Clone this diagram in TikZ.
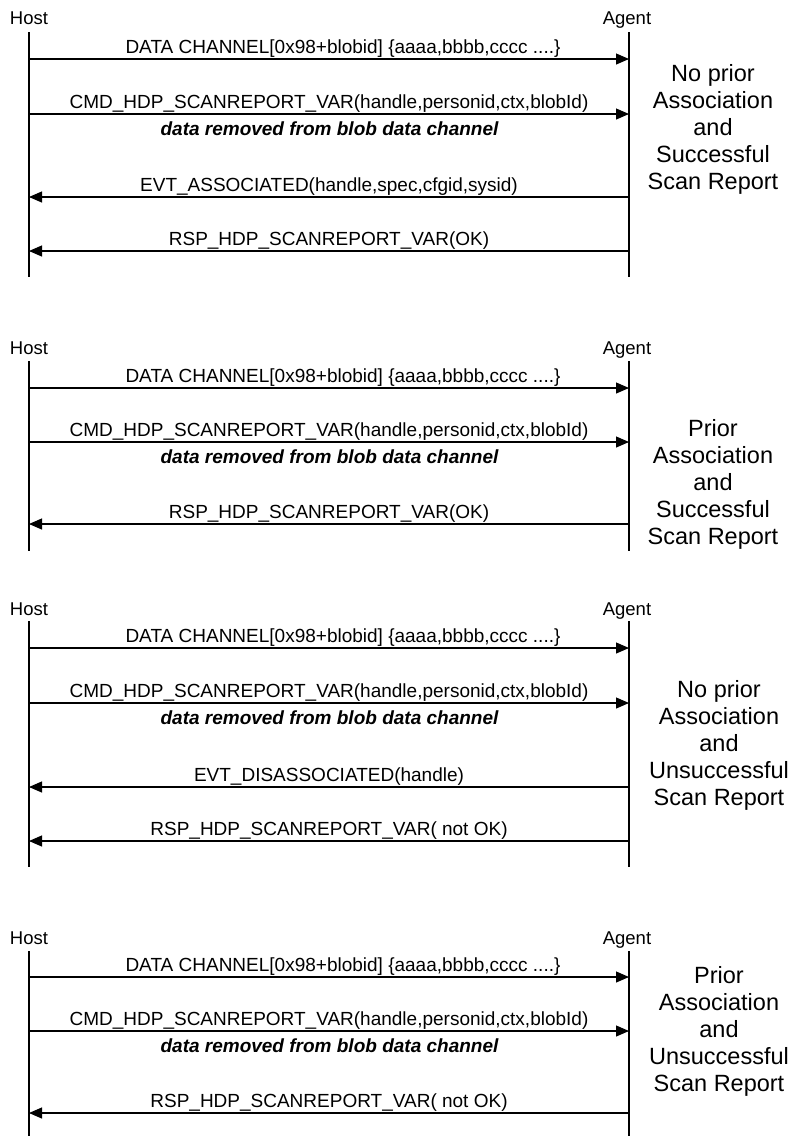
\documentclass[tikz,border=0pt]{standalone}
\usepackage{fontspec}
\setmainfont{Liberation Sans}
\usetikzlibrary{arrows.meta}
\begin{document}
\begin{tikzpicture}[x=1pt,y=-1pt,
  life/.style={line width=1.2pt},
  msg/.style={line width=1.1pt,-{Triangle[length=13pt,width=11pt]}},
  lbl/.style={anchor=base,inner sep=0pt,yshift=6pt,font=\fontsize{19}{22}\selectfont},
  note/.style={anchor=base,inner sep=0pt,font=\fontsize{19}{22}\selectfont\bfseries\itshape},
  actor/.style={anchor=base,inner sep=0pt,font=\fontsize{18.5}{22}\selectfont},
  side/.style={align=center,inner sep=0pt,font=\fontsize{23.5}{27}\selectfont}]
\useasboundingbox (0,0) rectangle (793,1136);

% ---------- Section 1 ----------
\node[actor] (host1) at (29,24.6) {Host};
\node[actor] (agent1) at (627,24.6) {Agent};
\coordinate (h1t) at (29,32);  \coordinate (h1b) at (29,277);
\coordinate (a1t) at (629,32); \coordinate (a1b) at (629,277);
\draw[life] (h1t) -- (h1b);
\draw[life] (a1t) -- (a1b);
\coordinate (h1m1) at (29,59);  \coordinate (a1m1) at (629,59);
\coordinate (h1m2) at (29,114); \coordinate (a1m2) at (629,114);
\coordinate (h1m3) at (29,197); \coordinate (a1m3) at (629,197);
\coordinate (h1m4) at (29,251); \coordinate (a1m4) at (629,251);
\draw[msg] (h1m1) -- node[lbl,xshift=14pt] {DATA CHANNEL[0x98+blobid] \{aaaa,bbbb,cccc ....\}} (a1m1);
\draw[msg] (h1m2) -- node[lbl] {CMD\_HDP\_SCANREPORT\_VAR(handle,personid,ctx,blobId)} (a1m2);
\node[note] (n1) at (329.5,135) {data removed from blob data channel};
\draw[msg] (a1m3) -- node[lbl] {EVT\_ASSOCIATED(handle,spec,cfgid,sysid)} (h1m3);
\draw[msg] (a1m4) -- node[lbl] {RSP\_HDP\_SCANREPORT\_VAR(OK)} (h1m4);
\node[side] (s1) at (713,129) {No prior\\Association\\and\\Successful\\Scan Report};

% ---------- Section 2 ----------
\node[actor] (host2) at (29,354.6) {Host};
\node[actor] (agent2) at (627,354.6) {Agent};
\coordinate (h2t) at (29,361);  \coordinate (h2b) at (29,551);
\coordinate (a2t) at (629,361); \coordinate (a2b) at (629,551);
\draw[life] (h2t) -- (h2b);
\draw[life] (a2t) -- (a2b);
\coordinate (h2m1) at (29,388);  \coordinate (a2m1) at (629,388);
\coordinate (h2m2) at (29,442);  \coordinate (a2m2) at (629,442);
\coordinate (h2m3) at (29,524);  \coordinate (a2m3) at (629,524);
\draw[msg] (h2m1) -- node[lbl,xshift=14pt] {DATA CHANNEL[0x98+blobid] \{aaaa,bbbb,cccc ....\}} (a2m1);
\draw[msg] (h2m2) -- node[lbl] {CMD\_HDP\_SCANREPORT\_VAR(handle,personid,ctx,blobId)} (a2m2);
\node[note] (n2) at (329.5,463) {data removed from blob data channel};
\draw[msg] (a2m3) -- node[lbl] {RSP\_HDP\_SCANREPORT\_VAR(OK)} (h2m3);
\node[side] (s2) at (713,484) {Prior\\Association\\and\\Successful\\Scan Report};

% ---------- Section 3 ----------
\node[actor] (host3) at (29,615) {Host};
\node[actor] (agent3) at (627,615) {Agent};
\coordinate (h3t) at (29,621);  \coordinate (h3b) at (29,867);
\coordinate (a3t) at (629,621); \coordinate (a3b) at (629,867);
\draw[life] (h3t) -- (h3b);
\draw[life] (a3t) -- (a3b);
\coordinate (h3m1) at (29,648);  \coordinate (a3m1) at (629,648);
\coordinate (h3m2) at (29,703);  \coordinate (a3m2) at (629,703);
\coordinate (h3m3) at (29,787);  \coordinate (a3m3) at (629,787);
\coordinate (h3m4) at (29,841);  \coordinate (a3m4) at (629,841);
\draw[msg] (h3m1) -- node[lbl,xshift=14pt] {DATA CHANNEL[0x98+blobid] \{aaaa,bbbb,cccc ....\}} (a3m1);
\draw[msg] (h3m2) -- node[lbl] {CMD\_HDP\_SCANREPORT\_VAR(handle,personid,ctx,blobId)} (a3m2);
\node[note] (n3) at (329.5,724) {data removed from blob data channel};
\draw[msg] (a3m3) -- node[lbl] {EVT\_DISASSOCIATED(handle)} (h3m3);
\draw[msg] (a3m4) -- node[lbl] {RSP\_HDP\_SCANREPORT\_VAR( not OK)} (h3m4);
\node[side] (s3) at (719,745) {No prior\\Association\\and\\Unsuccessful\\Scan Report};

% ---------- Section 4 ----------
\node[actor] (host4) at (29,944) {Host};
\node[actor] (agent4) at (627,944) {Agent};
\coordinate (h4t) at (29,951);  \coordinate (h4b) at (29,1136);
\coordinate (a4t) at (629,951); \coordinate (a4b) at (629,1136);
\draw[life] (h4t) -- (h4b);
\draw[life] (a4t) -- (a4b);
\coordinate (h4m1) at (29,977);   \coordinate (a4m1) at (629,977);
\coordinate (h4m2) at (29,1031);  \coordinate (a4m2) at (629,1031);
\coordinate (h4m3) at (29,1113);  \coordinate (a4m3) at (629,1113);
\draw[msg] (h4m1) -- node[lbl,xshift=14pt] {DATA CHANNEL[0x98+blobid] \{aaaa,bbbb,cccc ....\}} (a4m1);
\draw[msg] (h4m2) -- node[lbl] {CMD\_HDP\_SCANREPORT\_VAR(handle,personid,ctx,blobId)} (a4m2);
\node[note] (n4) at (329.5,1052) {data removed from blob data channel};
\draw[msg] (a4m3) -- node[lbl] {RSP\_HDP\_SCANREPORT\_VAR( not OK)} (h4m3);
\node[side] (s4) at (719,1031) {Prior\\Association\\and\\Unsuccessful\\Scan Report};
\end{tikzpicture}
\end{document}
